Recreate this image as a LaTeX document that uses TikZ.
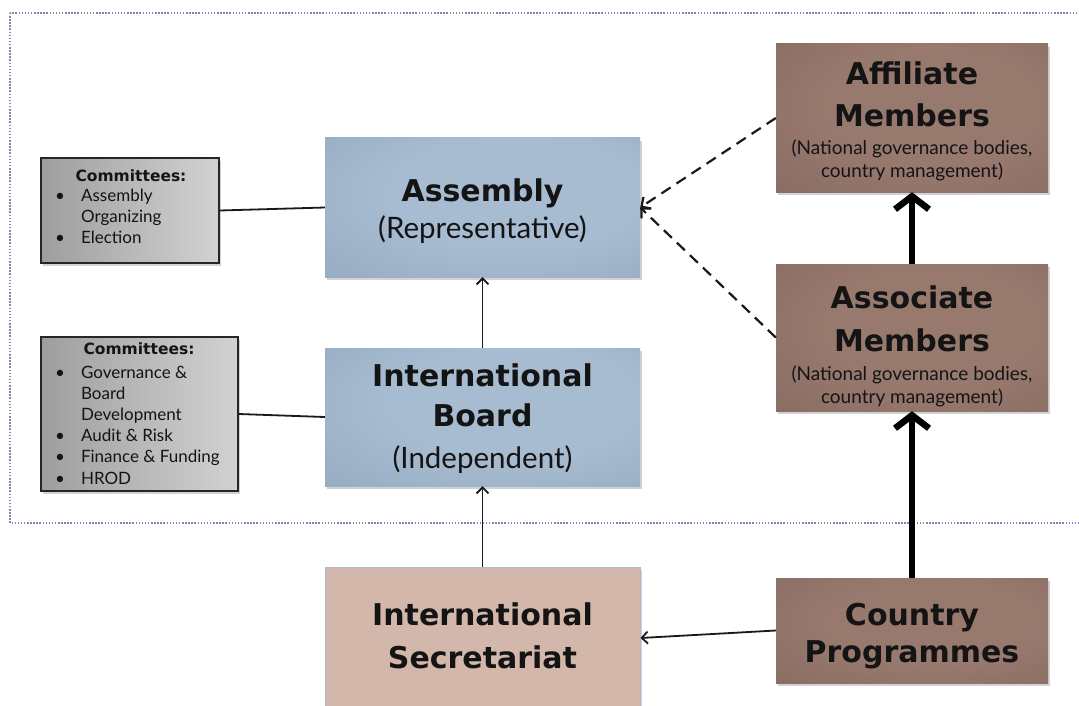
\documentclass[tikz,border=0pt]{standalone}
\usepackage{fontspec}
\setmainfont{Lato}
\newfontfamily\dvs{DejaVu Sans}
\usetikzlibrary{arrows.meta,shadows}
\definecolor{bluein}{HTML}{A7BCD1}
\definecolor{blueout}{HTML}{869CB2}
\definecolor{brownin}{HTML}{98796E}
\definecolor{brownout}{HTML}{785F57}
\definecolor{grayl}{HTML}{9E9E9E}
\definecolor{grayr}{HTML}{D2D2D2}
\definecolor{secfill}{HTML}{D3B7AA}
\definecolor{secline}{HTML}{A9BBD0}
\definecolor{framec}{HTML}{7C86AE}
\definecolor{txt}{HTML}{141414}
\pgfdeclareradialshading{blueshade}{\pgfpoint{8bp}{8bp}}{color(0bp)=(bluein); color(20bp)=(bluein); color(60bp)=(blueout)}
\pgfdeclareradialshading{brownshade}{\pgfpoint{6bp}{6bp}}{color(0bp)=(brownin); color(20bp)=(brownin); color(60bp)=(brownout)}
\begin{document}
\begin{tikzpicture}[x=1pt,y=-1pt,
  box/.style={rectangle, inner sep=0pt, anchor=center,
    drop shadow={opacity=0.35, shadow xshift=1.5pt, shadow yshift=-3pt}},
  bluebox/.style={box, shading=blueshade, minimum width=315pt},
  brownbox/.style={box, shading=brownshade, minimum width=272pt},
  graybox/.style={box, left color=grayl, right color=grayr, draw=black!85, line width=1.5pt},
  secbox/.style={box, fill=secfill, draw=secline, line width=1pt, minimum width=315pt},
  ttl/.style={anchor=base, inner sep=0pt, text=txt, font=\dvs\bfseries\fontsize{30}{36}\selectfont},
  sub/.style={anchor=base, inner sep=0pt, text=txt, font=\fontsize{29.5}{34}\selectfont},
  note/.style={anchor=base, inner sep=0pt, text=txt, font=\fontsize{19}{22}\selectfont},
  comhead/.style={anchor=base, inner sep=0pt, text=txt, font=\dvs\bfseries\fontsize{15.5}{21}\selectfont},
  comlist/.style={anchor=base west, inner sep=0pt, text=txt, font=\fontsize{17}{21.2}\selectfont},
  plain/.style={line width=1.8pt, black!90},
  thinarrow/.style={line width=1.8pt, black!90, -{Straight Barb[length=6pt,width=12pt]}},
  thickarrow/.style={line width=6.5pt, black, -{Straight Barb[length=13pt,width=34pt]}},
  dasharrow/.style={line width=2.2pt, black!90, dash pattern=on 11pt off 7pt,
    -{Straight Barb[length=7pt,width=14pt]}}
]
\useasboundingbox (0,0) rectangle (1079,706);
\clip (0,0) rectangle (1079,706);
\fill[white] (0,0) rectangle (1079,706);

% dotted frame
\draw[framec, line width=1.5pt, dash pattern=on 1.5pt off 1.6pt] (10,13) rectangle (1100,523);

% committee boxes
\node[graybox, minimum width=178pt, minimum height=105pt] (com1) at (130,210.5) {};
\node[graybox, minimum width=197pt, minimum height=154pt] (com2) at (139.5,414) {};
\node[comhead] (com1h) at (131,182) {Committees:};
\node[comlist] (com1l) at (55,201) {\begin{tabular}[t]{@{}l@{\hspace{16pt}}l@{}}
  \textbullet & Assembly\\
   & Organizing\\
  \textbullet & Election
  \end{tabular}};
\node[comhead] (com2h) at (139,354) {Committees:};
\node[comlist] (com2l) at (55,378) {\begin{tabular}[t]{@{}l@{\hspace{16pt}}l@{}}
  \textbullet & Governance \&\\
   & Board\\
   & Development\\
  \textbullet & Audit \& Risk\\
  \textbullet & Finance \& Funding\\
  \textbullet & HROD
  \end{tabular}};

% main boxes
\node[bluebox, minimum height=139pt] (asm) at (482.5,207.5) {};
\node[bluebox, minimum height=138pt] (brd) at (482.5,417) {};
\node[secbox, minimum height=142pt] (sec) at (482.5,638) {};
\node[brownbox, minimum height=148pt] (aff) at (912,118) {};
\node[brownbox, minimum height=147pt] (aso) at (912,337.5) {};
\node[brownbox, minimum height=105pt] (cp) at (912,630.5) {};

% texts
\node[ttl] (asmA) at (482.5,201.7) {Assembly};
\node[sub] (asmB) at (482.5,238) {(Representative)};
\node[ttl] (brdA) at (482.5,386.7) {International};
\node[ttl] (brdB) at (482.5,426.7) {Board};
\node[sub] (brdC) at (482.5,468) {(Independent)};
\node[ttl] (secA) at (482.5,625) {International};
\node[ttl] (secB) at (482.5,668) {Secretariat};
\node[ttl] (affA) at (912,85) {Affiliate};
\node[ttl] (affB) at (912,127) {Members};
\node[note] (affC) at (912,154) {(National governance bodies,};
\node[note] (affD) at (912,178) {country management)};
\node[ttl] (asoA) at (912,308) {Associate};
\node[ttl] (asoB) at (912,351) {Members};
\node[note] (asoC) at (912,380) {(National governance bodies,};
\node[note] (asoD) at (912,403) {country management)};
\node[ttl] (cpA) at (912,625) {Country};
\node[ttl] (cpB) at (912,662) {Programmes};

% connectors
\draw[plain] (com1.east) -- (asm.west);
\draw[plain] (com2.east) -- (brd.west);
\draw[thinarrow] (brd.north) -- (asm.south);
\draw[thinarrow] (sec.north) -- (brd.south);
\draw[thinarrow] (cp.west) -- (sec.east);
\draw[thickarrow] (cp.north) -- (aso.south);
\draw[thickarrow] (aso.north) -- (aff.south);
\draw[dasharrow] (aff.west) -- (asm.east);
\draw[dasharrow] (aso.west) -- (asm.east);
\end{tikzpicture}
\end{document}
